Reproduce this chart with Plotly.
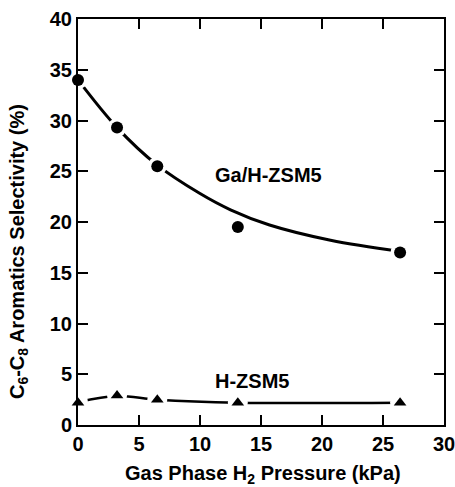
import plotly.graph_objects as go

# Measured data points
ga_x = [0, 3.2, 6.5, 13.1, 26.4]
ga_y = [34.0, 29.3, 25.5, 19.5, 17.0]
h_x = [0, 3.2, 6.5, 13.1, 26.4]
h_y = [2.2, 2.9, 2.5, 2.2, 2.2]

# Fitted curves
ga_fit_x = [0, 3.2, 6.5, 10, 12.5, 15.7, 20.7, 26.4]
ga_fit_y = [34.0, 29.3, 25.6, 22.8, 21.2, 19.7, 18.2, 17.1]
h_fit_x = [0, 3.2, 6.5, 13.1, 26.4]
h_fit_y = [2.25, 2.85, 2.5, 2.2, 2.2]

x_ticks = [0, 5, 10, 15, 20, 25, 30]
y_ticks = [0, 5, 10, 15, 20, 25, 30, 35, 40]

font_fam = "Liberation Sans, Arial, sans-serif"

fig = go.Figure()
fig.add_trace(go.Scatter(x=ga_fit_x, y=ga_fit_y, mode="lines",
                         line=dict(color="black", width=3, shape="spline"),
                         showlegend=False, hoverinfo="skip"))
fig.add_trace(go.Scatter(x=h_fit_x, y=h_fit_y, mode="lines",
                         line=dict(color="black", width=2.5, shape="spline"),
                         showlegend=False, hoverinfo="skip"))
# white halos to break the lines around markers
fig.add_trace(go.Scatter(x=ga_x, y=ga_y, mode="markers", cliponaxis=False,
                         marker=dict(symbol="circle", size=19, color="white"),
                         showlegend=False, hoverinfo="skip"))
fig.add_trace(go.Scatter(x=h_x, y=h_y, mode="markers", cliponaxis=False,
                         marker=dict(symbol="circle", size=20, color="white"),
                         showlegend=False, hoverinfo="skip"))
fig.add_trace(go.Scatter(x=ga_x, y=ga_y, mode="markers", cliponaxis=False,
                         marker=dict(symbol="circle", size=12, color="black"),
                         showlegend=False))
fig.add_trace(go.Scatter(x=h_x, y=h_y, mode="markers", cliponaxis=False,
                         marker=dict(symbol="triangle-up", size=11, color="black"),
                         showlegend=False))

fig.add_annotation(x=15.6, y=24.6, text="<b>Ga/H-ZSM5</b>", showarrow=False,
                   font=dict(family=font_fam, size=20, color="black"))
fig.add_annotation(x=14.3, y=4.3, text="<b>H-ZSM5</b>", showarrow=False,
                   font=dict(family=font_fam, size=20, color="black"))

# axis titles
fig.add_annotation(xref="paper", yref="paper", x=0.505, y=0, yshift=-49,
                   xanchor="center", yanchor="middle",
                   text="<b>Gas Phase H<sub>2</sub> Pressure (kPa)</b>", showarrow=False,
                   font=dict(family=font_fam, size=20, color="black"))
fig.add_annotation(xref="paper", yref="paper", x=0, y=0.426, xshift=-60,
                   xanchor="center", yanchor="middle", textangle=-90,
                   text="<b>C<sub>6</sub>-C<sub>8</sub> Aromatics Selectivity (%)</b>",
                   showarrow=False,
                   font=dict(family=font_fam, size=20, color="black"))

axis_common = dict(showgrid=False, zeroline=False, showline=True, linecolor="black",
                   linewidth=2, mirror="ticks", ticks="inside", ticklen=10,
                   tickwidth=1.5, tickcolor="black", automargin=False,
                   ticklabeloverflow="allow",
                   tickfont=dict(family=font_fam, size=20, color="black"))

fig.update_xaxes(range=[0, 30], tickvals=x_ticks,
                 ticktext=[f"<b>{v}</b>" for v in x_ticks], **axis_common)
fig.update_yaxes(range=[0, 40], tickvals=y_ticks,
                 ticktext=[f"<b>{v}</b>" for v in y_ticks], **axis_common)

fig.update_layout(width=455, height=487, margin=dict(l=78, r=11, t=19, b=62),
                  plot_bgcolor="white", paper_bgcolor="white")

fig.write_html("out.html")
